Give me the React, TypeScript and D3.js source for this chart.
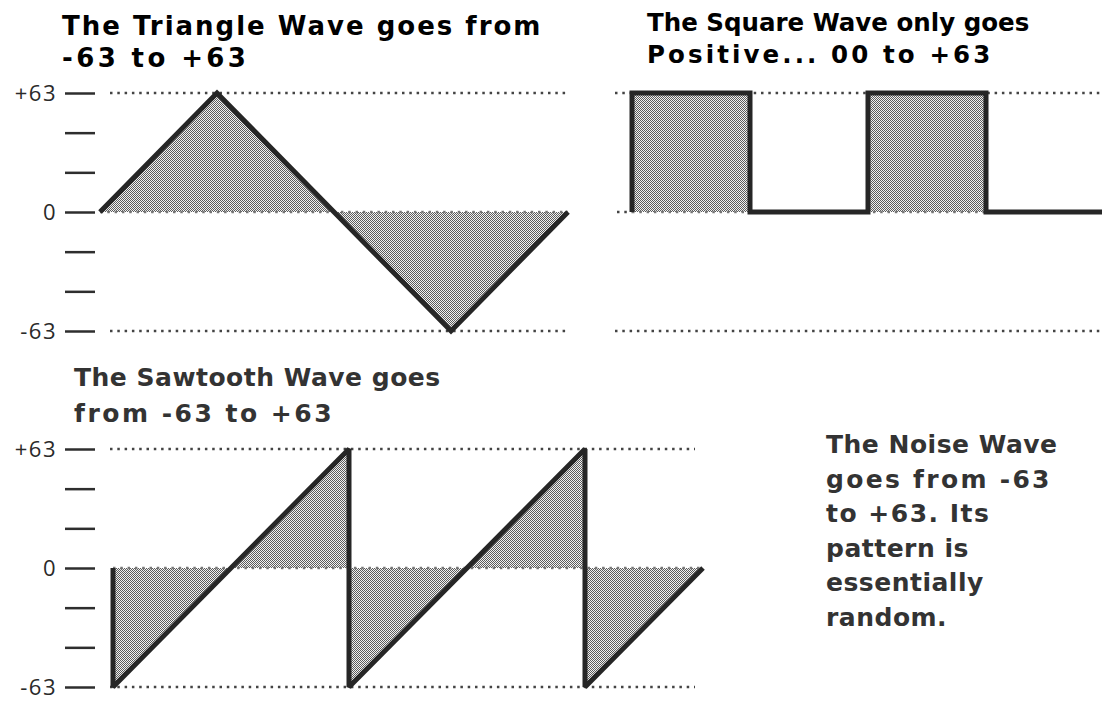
import React, { useEffect, useRef } from 'react';
import * as d3 from 'd3';

// wave samples: step index along the time axis, level from -63 to +63
const triangleSteps = [0, 1, 2, 3, 4];
const triangleValues = [0, 63, 0, -63, 0];
const squareSteps = [0, 0, 1, 1, 2, 2, 3, 3, 4];
const squareValues = [0, 63, 63, 0, 0, 63, 63, 0, 0];
const sawSteps = [0, 0, 2, 2, 4, 4, 5];
const sawValues = [0, -63, 63, -63, 63, -63, 0];

const tickValues = [-63, -42, -21, 0, 21, 42, 63];
const tickLabels: Record<string, string> = { '63': '+63', '0': '0', '-63': '-63' };

const triangleTitle = ['The Triangle Wave goes from', '-63 to +63'];
const squareTitle = ['The Square Wave only goes', 'Positive... 00 to +63'];
const sawTitle = ['The Sawtooth Wave goes', 'from -63 to +63'];
const noiseText = ['The Noise Wave', 'goes from -63', 'to +63. Its', 'pattern is', 'essentially', 'random.'];

const W = 1102;
const H = 701;
const INK = '#262626';
const TITLE_FONT = '"DejaVu Sans", Verdana, sans-serif';

export default function App() {
  const ref = useRef<SVGSVGElement>(null);

  useEffect(() => {
    const svg = d3.select(ref.current);
    svg.selectAll('*').remove();

    const defs = svg.append('defs');
    const pat = defs.append('pattern')
      .attr('id', 'halftone')
      .attr('patternUnits', 'userSpaceOnUse')
      .attr('width', 2)
      .attr('height', 2);
    pat.append('rect').attr('width', 2).attr('height', 2).attr('fill', '#f2f2f2');
    pat.append('rect').attr('width', 1).attr('height', 1).attr('fill', '#5c5c5c');
    pat.append('rect').attr('x', 1).attr('y', 1).attr('width', 1).attr('height', 1).attr('fill', '#5c5c5c');

    const yTop = d3.scaleLinear().domain([-63, 63]).range([331, 93]);
    const yBottom = d3.scaleLinear().domain([-63, 63]).range([687, 449]);
    const xTri = d3.scaleLinear().domain([0, 4]).range([100, 568]);
    const xSquare = d3.scaleLinear().domain([0, 4]).range([632, 1104]);
    const xSaw = d3.scaleLinear().domain([0, 5]).range([113, 703]);

    const dotted = (x1: number, x2: number, y: number, color = '#444') => {
      svg.append('line')
        .attr('x1', x1).attr('x2', x2)
        .attr('y1', y).attr('y2', y)
        .attr('stroke', color)
        .attr('stroke-width', 2.5)
        .attr('stroke-dasharray', '2.5 4.8');
    };

    const axis = (y: d3.ScaleLinear<number, number>) => {
      const g = svg.append('g')
        .attr('transform', 'translate(95,0)')
        .call(d3.axisLeft(y)
          .tickValues(tickValues)
          .tickSize(30)
          .tickPadding(8)
          .tickFormat(d => tickLabels[String(d)] || ''));
      g.select('.domain').remove();
      g.selectAll('.tick line').attr('stroke', '#2e2e2e').attr('stroke-width', 2.5);
      g.selectAll('.tick text')
        .attr('fill', '#2a2a2a')
        .attr('dy', '0.34em')
        .style('font-family', '"Open Sans", sans-serif')
        .style('font-weight', '400')
        .style('font-size', '22px')
        .style('letter-spacing', '1.5px');
    };

    const wave = (steps: number[], values: number[], x: d3.ScaleLinear<number, number>, y: d3.ScaleLinear<number, number>) => {
      const pts = steps.map((s, i) => [s, values[i]] as [number, number]);
      const area = d3.area<[number, number]>()
        .x(d => x(d[0]))
        .y0(y(0))
        .y1(d => y(d[1]));
      svg.append('path').attr('d', area(pts)).attr('fill', 'url(#halftone)');
      dotted(x(steps[0]), x(steps[steps.length - 1]), y(0), '#777');
      const line = d3.line<[number, number]>()
        .x(d => x(d[0]))
        .y(d => y(d[1]));
      svg.append('path')
        .attr('d', line(pts))
        .attr('fill', 'none')
        .attr('stroke', INK)
        .attr('stroke-width', 5)
        .attr('stroke-linejoin', 'miter')
        .attr('stroke-miterlimit', 2.5);
    };

    // guide lines
    dotted(110, 568, yTop(63));
    dotted(110, 568, yTop(-63));
    dotted(615, W, yTop(63));
    dotted(615, W, yTop(-63));
    dotted(617, 632, yTop(0));
    dotted(110, 695, yBottom(63));
    dotted(110, 695, yBottom(-63));

    axis(yTop);
    axis(yBottom);

    wave(triangleSteps, triangleValues, xTri, yTop);
    wave(squareSteps, squareValues, xSquare, yTop);
    wave(sawSteps, sawValues, xSaw, yBottom);

    const block = (lines: string[], x: number, y0: number, dy: number, size: number, spacing: number[], fill: string) => {
      svg.append('g').selectAll('text')
        .data(lines)
        .enter()
        .append('text')
        .attr('x', x)
        .attr('y', (d, i) => y0 + i * dy)
        .attr('fill', fill)
        .style('font-family', TITLE_FONT)
        .style('font-weight', 'bold')
        .style('font-size', size + 'px')
        .style('letter-spacing', (d, i) => spacing[i] + 'px')
        .text(d => d);
    };

    block(triangleTitle, 62, 35, 32, 26, [2, 3.4], '#000');
    block(squareTitle, 647, 31, 32, 24.5, [0, 3.1], '#000');
    block(sawTitle, 74, 386, 36, 25, [0.5, 2.5], '#333');
    block(noiseText, 826, 453, 34.5, 25, [0.5, 2.3, 1.5, 0.5, 0.5, 0.5], '#333');
  }, []);

  return (
    <div style={{ position: 'absolute', left: 0, top: 0 }}>
      <svg ref={ref} width={W} height={H} style={{ display: 'block', background: '#fff' }} />
    </div>
  );
}
